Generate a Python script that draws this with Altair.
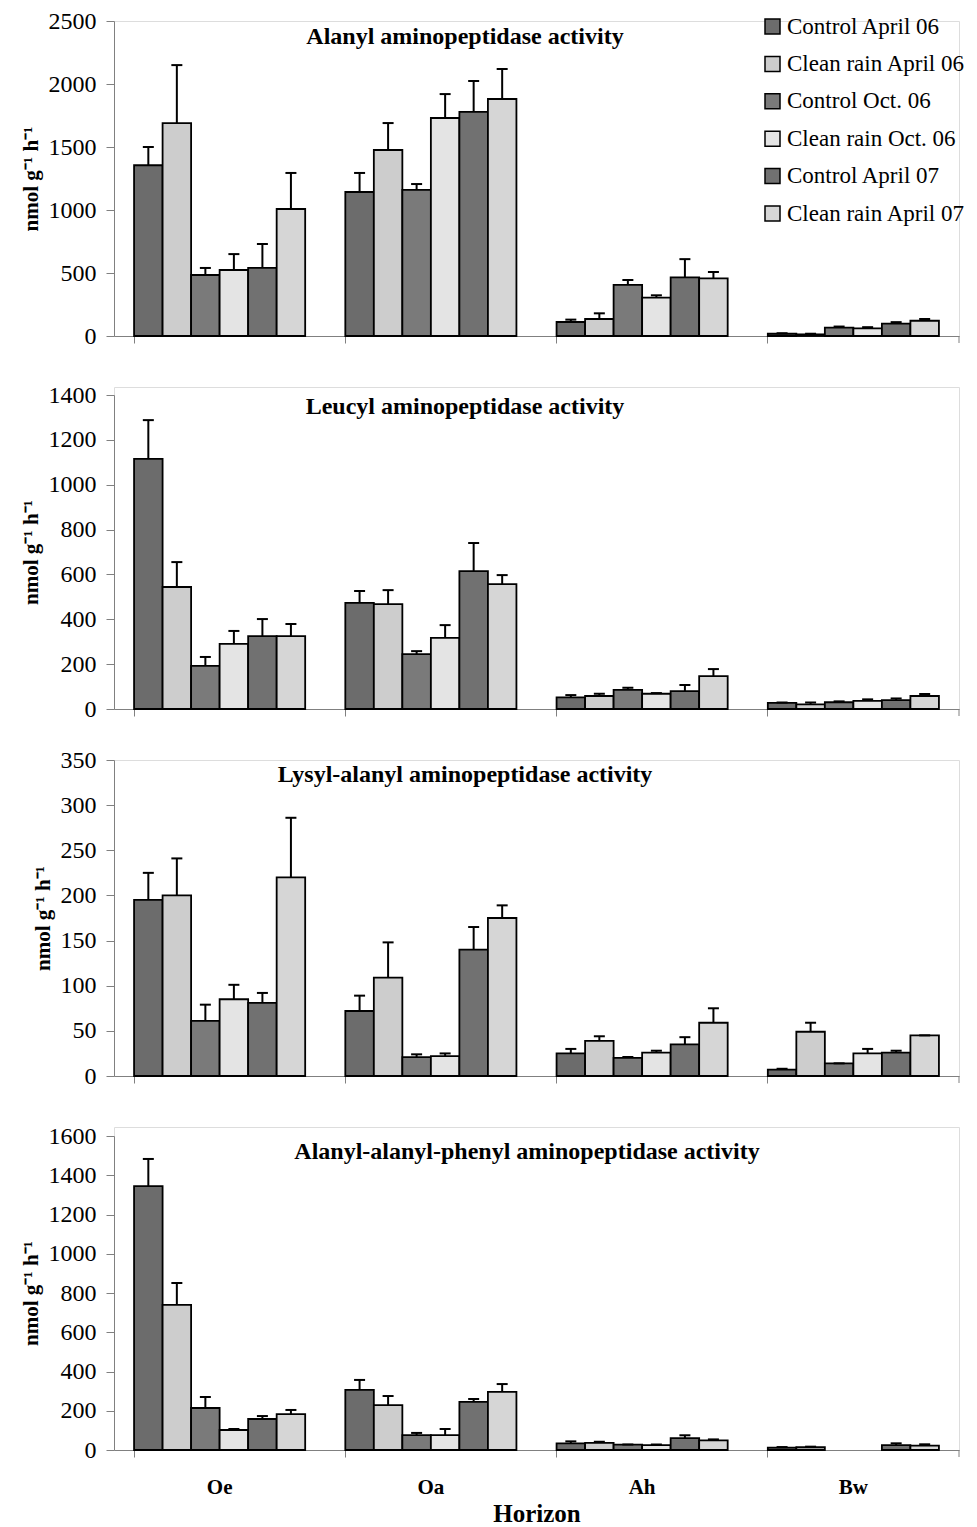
import altair as alt
import pandas as pd

horizons = ["Oe", "Oa", "Ah", "Bw"]
series = ["Control April 06", "Clean rain April 06", "Control Oct. 06",
          "Clean rain Oct. 06", "Control April 07", "Clean rain April 07"]
colors = ["#6c6c6c", "#cdcdcd", "#7a7a7a", "#e4e4e4", "#717171", "#d6d6d6"]

titles = ["Alanyl aminopeptidase activity",
          "Leucyl aminopeptidase activity",
          "Lysyl-alanyl aminopeptidase activity",
          "Alanyl-alanyl-phenyl aminopeptidase activity"]

# values per horizon (Oe, Oa, Ah, Bw), six series each
ala_mean = [1355, 1690, 484, 524, 540, 1008,
            1143, 1476, 1159, 1730, 1778, 1881,
            111, 135, 405, 304, 466, 458,
            18, 13, 66, 61, 98, 121]
ala_top = [1500, 2150, 540, 650, 730, 1294,
           1294, 1690, 1206, 1920, 2024, 2119,
           130, 180, 445, 323, 610, 508,
           22, 18, 75, 70, 110, 135]

leu_mean = [1115, 544, 192, 290, 325, 325,
            473, 468, 245, 317, 615, 557,
            52, 58, 85, 68, 80, 147,
            27, 21, 30, 36, 40, 58]
leu_top = [1288, 655, 232, 348, 401, 379,
           526, 530, 258, 374, 740, 597,
           62, 68, 95, 71, 107, 178,
           29, 29, 34, 43, 47, 67]

lys_mean = [195, 200, 61, 85, 81, 220,
            72, 109, 21, 22, 140, 175,
            25, 39, 20, 26, 35, 59,
            7, 49, 14, 25, 26, 45]
lys_top = [225, 241, 79, 101, 92, 286,
           89, 148, 24, 25, 165, 189,
           30, 44, 21, 28, 43, 75,
           8, 59, 14, 30, 28, 45]

aap_mean = [1345, 739, 214, 102, 158, 183,
            306, 229, 76, 76, 245, 296,
            34, 36, 27, 25, 61, 49,
            12, 14, None, None, 25, 22]
aap_top = [1483, 851, 270, 107, 173, 204,
           357, 275, 87, 107, 260, 336,
           44, 42, 28, 28, 75, 54,
           15, 17, None, None, 34, 29]

y_max = [2500, 1400, 350, 1600]
y_step = [500, 200, 50, 200]
title_x = [351, 351, 351, 413]
title_y = [16, 12, 15, 16]
plot_h = [315, 314, 316, 314]
top_gap = [0, 8, 0, 9]

FONT = "Liberation Serif"
W = 845


def panel(idx, mean, top):
    g = top_gap[idx]
    H = plot_h[idx] + g
    rows = []
    for hi, h in enumerate(horizons):
        for si, s in enumerate(series):
            m = mean[hi * 6 + si]
            if m is None:
                continue
            rows.append({"horizon": h, "series": s, "mean": m, "top": top[hi * 6 + si]})
    df = pd.DataFrame(rows)
    last = idx == 3
    if last:
        xaxis = alt.Axis(bandPosition=0, tickSize=7, domainColor="#808080", tickColor="#808080",
                         labelFont=FONT, labelFontSize=21, labelFontWeight="bold", labelColor="black",
                         labelAngle=0, labelPadding=19, title="Horizon", titleFont=FONT,
                         titleFontSize=25, titleFontWeight="bold", titleColor="black", titlePadding=4)
    else:
        xaxis = alt.Axis(bandPosition=0, tickSize=7, domainColor="#808080", tickColor="#808080",
                         labels=False, title=None)
    x = alt.X("horizon:N", sort=horizons,
              scale=alt.Scale(domain=horizons, paddingInner=0.19, paddingOuter=0.095),
              axis=xaxis)
    xo = alt.XOffset("series:N", sort=series,
                     scale=alt.Scale(domain=series, paddingInner=0, paddingOuter=0))
    yaxis = alt.Axis(values=list(range(0, y_max[idx] + 1, y_step[idx])), grid=False,
                     format="d", labelOverlap=False,
                     tickSize=8, domainColor="#808080", tickColor="#808080",
                     labelFont=FONT, labelFontSize=24, labelColor="black", labelPadding=10,
                     title="nmol g⁻¹ h⁻¹", titleFont=FONT, titleFontSize=21,
                     titleFontWeight="bold", titleColor="black", titlePadding=7)
    y = alt.Y("mean:Q", scale=alt.Scale(domain=[0, y_max[idx]], nice=False, range=[H, g]),
              axis=yaxis)
    if idx == 0:
        legend = alt.Legend(orient="none", legendX=647, legendY=-6, title=None,
                            symbolType="square", symbolSize=225, symbolStrokeColor="black",
                            symbolStrokeWidth=1.5, symbolOpacity=1,
                            labelFont=FONT, labelFontSize=23, labelColor="black",
                            labelLimit=300, rowPadding=13.4, labelOffset=3)
    else:
        legend = None
    bars = alt.Chart(df).mark_bar(stroke="black", strokeWidth=1.8, opacity=1).encode(
        x=x, xOffset=xo, y=y,
        fill=alt.Fill("series:N", sort=series,
                      scale=alt.Scale(domain=series, range=colors), legend=legend))
    rules = alt.Chart(df).mark_rule(color="black", strokeWidth=2).encode(
        x=x, xOffset=xo, y="mean:Q", y2="top:Q")
    caps = alt.Chart(df).mark_tick(color="black", thickness=2, size=11, opacity=1).encode(
        x=x, xOffset=xo, y="top:Q")
    endtick = alt.Chart(pd.DataFrame({"k": [0]})).mark_rule(color="#808080", strokeWidth=1).encode(
        x=alt.value(W), y=alt.value(H), y2=alt.value(H + 7))
    ttl = alt.Chart(pd.DataFrame({"t": [titles[idx]]})).mark_text(
        font=FONT, fontSize=24, fontWeight="bold", color="black", baseline="middle", align="center"
    ).encode(text="t:N", x=alt.value(title_x[idx]), y=alt.value(title_y[idx] + g))
    return alt.layer(bars, rules, caps, endtick, ttl).properties(width=W, height=H)


p = [panel(0, ala_mean, ala_top), panel(1, leu_mean, leu_top),
     panel(2, lys_mean, lys_top), panel(3, aap_mean, aap_top)]

chart = alt.vconcat(*p, spacing=51, bounds="flush").resolve_scale(
    x="independent", y="independent", fill="independent", xOffset="independent"
).properties(
    padding={"left": 11, "top": 0, "right": 0, "bottom": 0}
).configure_view(stroke="transparent", strokeWidth=0).configure(font=FONT).configure_axis(
    labelFont=FONT, titleFont=FONT).configure_legend(labelFont=FONT)

chart.save("out.html", embed_options={"renderer": "svg", "actions": False})
